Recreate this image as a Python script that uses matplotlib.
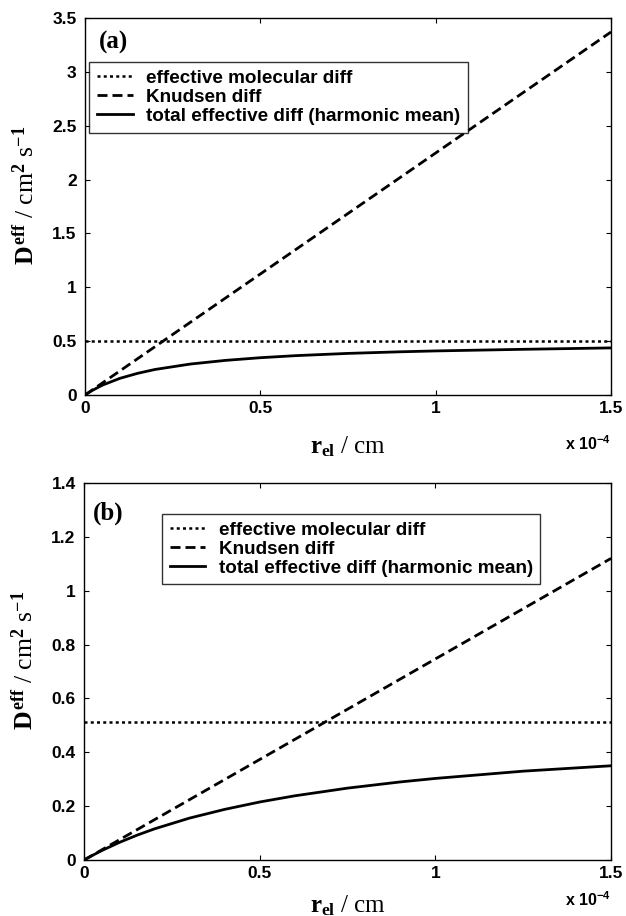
import numpy as np
import matplotlib
matplotlib.use("Agg")
import matplotlib.pyplot as plt

plt.rcParams["font.family"] = ["Liberation Sans", "DejaVu Sans"]
plt.rcParams["font.weight"] = "bold"
plt.rcParams["mathtext.fontset"] = "custom"
plt.rcParams["mathtext.rm"] = "Liberation Serif:bold"
plt.rcParams["mathtext.it"] = "Liberation Serif:bold"
plt.rcParams["mathtext.bf"] = "Liberation Serif:bold"
plt.rcParams["mathtext.sf"] = "Liberation Sans:bold"

# r_el in units of 1e-4 cm
r_knudsen = [0.0, 1.5]
r_total = [0.0, 0.02, 0.05, 0.1, 0.15, 0.2, 0.3, 0.4, 0.5, 0.6, 0.75, 0.9, 1.0, 1.25, 1.5]

# panel (a)
d_mol_a = 0.505
d_knudsen_a = [0.0, 3.37]
d_total_a = [0.0, 0.041, 0.092, 0.155, 0.201, 0.237, 0.287, 0.321, 0.346,
             0.365, 0.386, 0.401, 0.409, 0.424, 0.437]

# panel (b)
d_mol_b = 0.512
d_knudsen_b = [0.0, 1.12]
d_total_b = [0.0, 0.0145, 0.0348, 0.0651, 0.0918, 0.1155, 0.1556, 0.188, 0.2155,
             0.2385, 0.267, 0.290, 0.303, 0.330, 0.350]

legend_labels = ["effective molecular diff", "Knudsen diff",
                 "total effective diff (harmonic mean)"]
serif = ["Liberation Serif", "DejaVu Serif"]


def draw_panel(ax, d_mol, d_knud, d_tot, ymax, yticks, tag, tag_pos, leg_pos,
               xlab_y, offset_y):
    ax.plot([0, 1.5], [d_mol, d_mol], color="black", lw=1.8, dashes=(1.2, 1.3),
            label=legend_labels[0])
    ax.plot(r_knudsen, d_knud, color="black", lw=2.0, dashes=(3.6, 1.8),
            label=legend_labels[1])
    ax.plot(r_total, d_tot, color="black", lw=2.0, label=legend_labels[2])

    ax.set_xlim(0, 1.5)
    ax.set_ylim(0, ymax)
    ax.set_xticks([0, 0.5, 1, 1.5])
    ax.set_xticklabels(["0", "0.5", "1", "1.5"])
    ax.set_yticks(yticks)
    ax.set_yticklabels([("%g" % t) for t in yticks])
    ax.tick_params(direction="in", length=3.6, width=0.8, top=True, right=True,
                   labelsize=12.5)
    ax.tick_params(axis="x", pad=4)
    ax.tick_params(axis="y", pad=6)
    for s in ax.spines.values():
        s.set_linewidth(1.0)

    ax.set_xlabel(r"$r_{el}$ / cm", fontsize=18, family=serif)
    ax.set_ylabel(r"$D^{eff}$ / cm$^2$ s$^{-1}$", fontsize=18.5, family=serif)
    ax.xaxis.set_label_coords(0.5, xlab_y)
    ax.yaxis.set_label_coords(-0.089, 0.53)

    ax.text(tag_pos[0], tag_pos[1], tag, transform=ax.transAxes, fontsize=18,
            family=serif, weight="bold", ha="left", va="center")
    ax.text(1.0, offset_y, r"$\mathsf{x\ 10^{-4}}$", transform=ax.transAxes,
            fontsize=11.5, ha="right", va="center")

    leg = ax.legend(loc="upper left", bbox_to_anchor=leg_pos, fontsize=13.6,
                    frameon=True, fancybox=False, edgecolor="black",
                    handlelength=1.9, handletextpad=0.7, labelspacing=0.1,
                    borderpad=0.4, borderaxespad=0)
    leg.get_frame().set_linewidth(1.0)
    for t in leg.get_texts():
        t.set_weight("bold")


fig = plt.figure(figsize=(6.26, 9.16), dpi=100)
ax_a = fig.add_axes([0.1358, 0.5688, 0.8403, 0.4116])
ax_b = fig.add_axes([0.1342, 0.0611, 0.8419, 0.4116])

draw_panel(ax_a, d_mol_a, d_knudsen_a, d_total_a, 3.5,
           [0, 0.5, 1, 1.5, 2, 2.5, 3, 3.5], "(a)", (0.027, 0.936), (0.008, 0.883),
           -0.105, -0.13)
draw_panel(ax_b, d_mol_b, d_knudsen_b, d_total_b, 1.4,
           [0, 0.2, 0.4, 0.6, 0.8, 1, 1.2, 1.4], "(b)", (0.017, 0.92), (0.148, 0.918),
           -0.088, -0.105)

fig.savefig("out.png", dpi=100)
